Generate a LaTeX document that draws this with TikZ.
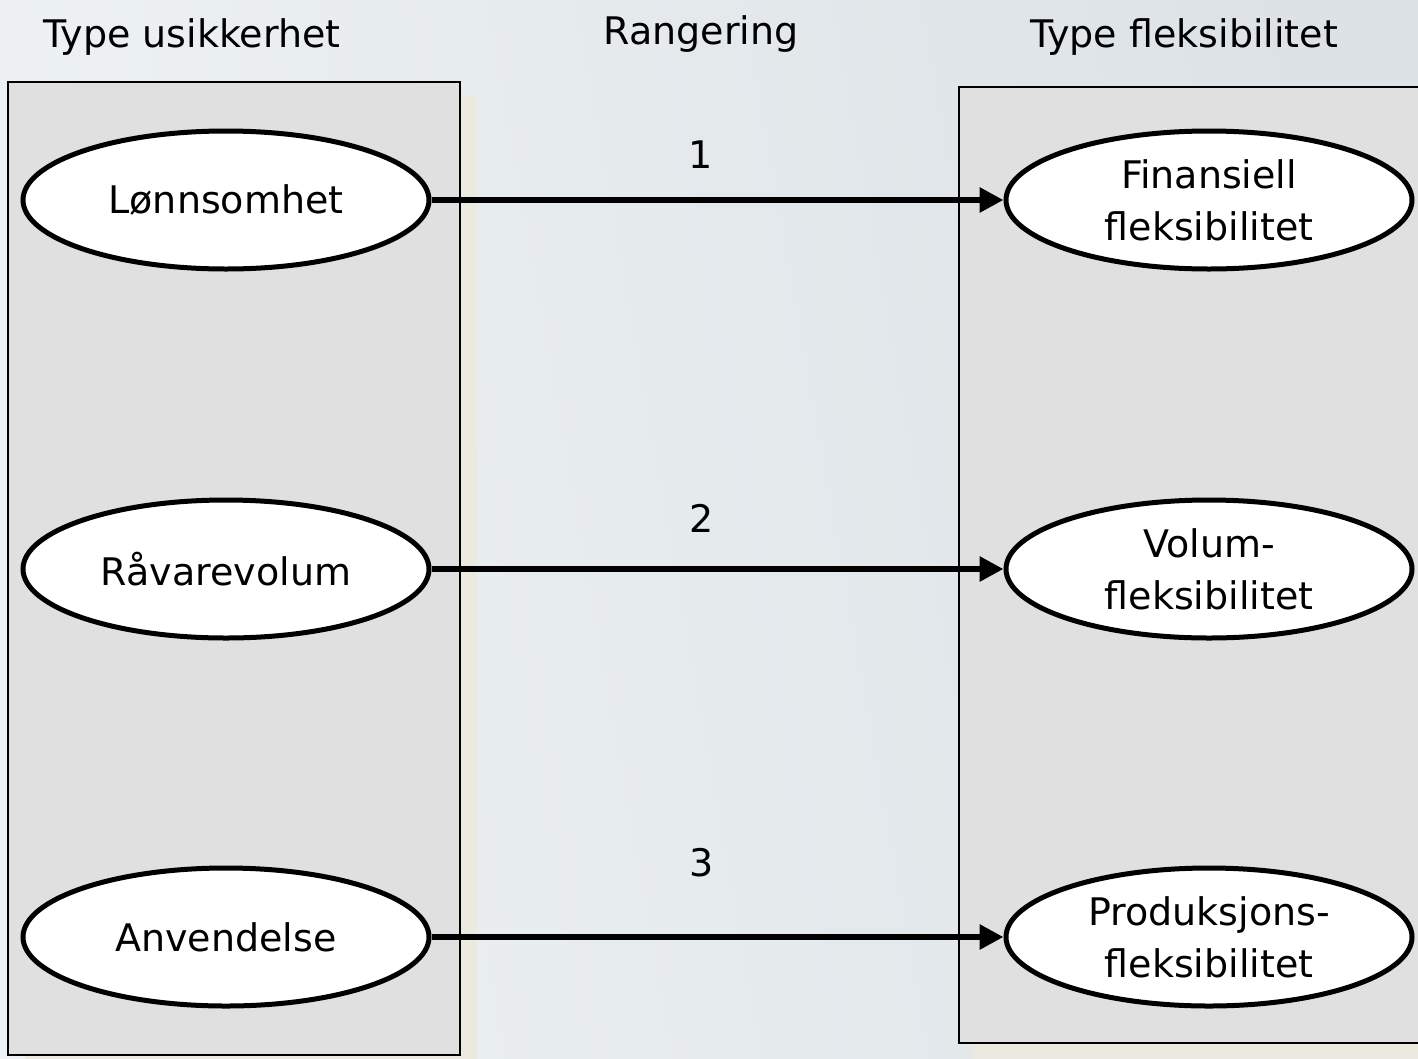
\documentclass[tikz,border=0pt]{standalone}
\usepackage{fontspec}
\setmainfont{DejaVu Sans}
\usetikzlibrary{shapes.geometric,arrows.meta}
\definecolor{bgA}{HTML}{EEF2F4}
\definecolor{bgB}{HTML}{DCE2E6}
\definecolor{boxfill}{HTML}{E0E0E0}
\definecolor{shadowc}{HTML}{ECEAE0}
\tikzset{
  panel/.style={draw=black, line width=2.8pt, fill=boxfill},
  panelshadow/.style={fill=shadowc, draw=none},
  oval/.style={ellipse, draw=black, line width=5pt, fill=white, minimum width=406pt, minimum height=138pt, inner sep=0pt, align=center, font=\fontsize{38}{52}\selectfont},
  label/.style={font=\fontsize{38}{46}\selectfont, anchor=base, inner sep=0pt},
  conn/.style={line width=6.7pt, -{Triangle[length=24pt,width=24pt]}}
}
\begin{document}
\begin{tikzpicture}[x=1pt,y=-1pt]
\useasboundingbox (0,0) rectangle (1418,1058);
\shade[left color=bgA, right color=bgB, shading angle=100] (0,0) rectangle (1418,1058);
% shadows
\fill[panelshadow] (25,95) rectangle (477,1070);
\fill[panelshadow] (973,100) rectangle (1430,1070);
% panels
\draw[panel] (8,82) rectangle (460,1055);
\draw[panel] (959,87) rectangle (1430,1043);
% headers
\node[label] (h1) at (192,47) {Type usikkerhet};
\node[label] (h2) at (701,44) {Rangering};
\node[label] (h3) at (1184,47) {Type fleksibilitet};
% ellipses
\node[oval] (l1) at (226,200) {Lønnsomhet};
\node[oval] (l2) at (226,569) {Råvarevolum};
\node[oval] (l3) at (226,937) {Anvendelse};
\node[oval] (r1) at (1209,200) {Finansiell\\fleksibilitet};
\node[oval] (r2) at (1209,569) {Volum-\\fleksibilitet};
\node[oval] (r3) at (1209,937) {Produksjons-\\fleksibilitet};
% connectors
\draw[conn] (l1) -- (r1) node[pos=0.5, label, xshift=-17pt, yshift=32pt] (n1) {1};
\draw[conn] (l2) -- (r2) node[pos=0.5, label, xshift=-16pt, yshift=37pt] (n2) {2};
\draw[conn] (l3) -- (r3) node[pos=0.5, label, xshift=-16pt, yshift=61pt] (n3) {3};
\end{tikzpicture}
\end{document}
